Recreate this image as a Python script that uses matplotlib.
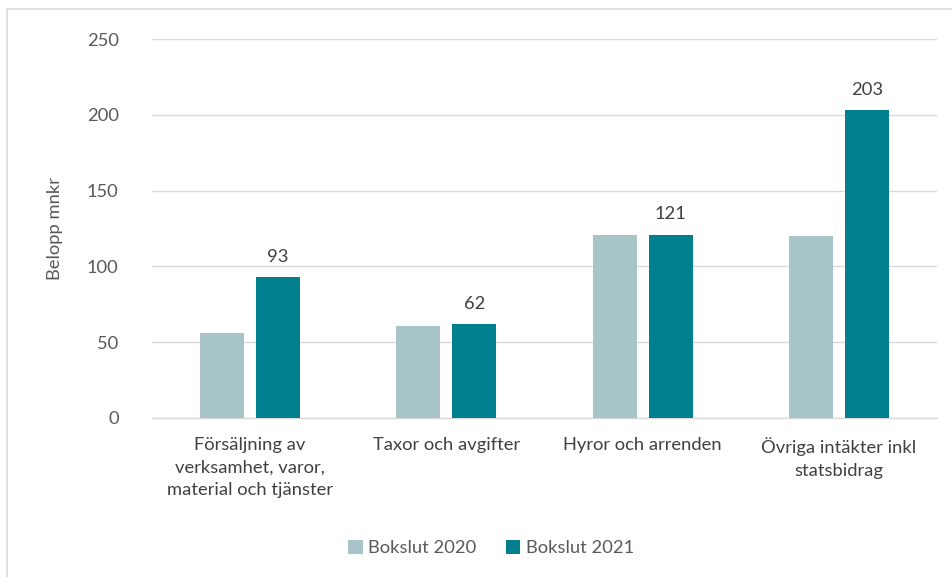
import matplotlib
matplotlib.use("Agg")
import matplotlib.pyplot as plt
import numpy as np
from matplotlib.lines import Line2D

categories = ["Försäljning av\nverksamhet, varor,\nmaterial och tjänster",
              "Taxor och avgifter",
              "Hyror och arrenden",
              "Övriga intäkter inkl\nstatsbidrag"]
bokslut_2020 = [56, 61, 121, 120]
bokslut_2021 = [93, 62, 121, 203]
series_names = ["Bokslut 2020", "Bokslut 2021"]
yticks = [0, 50, 100, 150, 200, 250]

c2020 = "#A7C4C9"
c2021 = "#00808E"
txt = "#595959"
fs = 13.2
plt.rcParams['font.family'] = ['Lato', 'DejaVu Sans']

fig = plt.figure(figsize=(9.53, 5.77), dpi=100)
ax = fig.add_axes([152/953, 1-418/577, (937-152)/953, (418-39)/577])

x = np.arange(len(categories))
w = 0.224
off = 0.143
b1 = ax.bar(x - off, bokslut_2020, w, color=c2020, label=series_names[0], zorder=3)
b2 = ax.bar(x + off, bokslut_2021, w, color=c2021, label=series_names[1], zorder=3)
for xi, v in zip(x, bokslut_2021):
    ax.annotate(f"{v}", (xi + off, v), xytext=(0, 9), textcoords="offset points",
                ha="center", va="bottom", fontsize=fs, color="#404040")

ax.set_xlim(-0.5, 3.5)
ax.set_ylim(0, 250)
ax.set_yticks(yticks)
ax.set_yticklabels([str(t) for t in yticks], fontsize=fs, color=txt)
ax.set_xticks(x)
ax.set_xticklabels(categories, fontsize=fs, color="#404040", linespacing=1.5, va="top")
ax.tick_params(axis="both", length=0)
ax.tick_params(axis="x", pad=14)
ax.tick_params(axis="y", pad=24)
ax.grid(axis="y", color="#D9D9D9", linewidth=1, zorder=0)
for s in ["top", "right", "left"]:
    ax.spines[s].set_visible(False)
ax.spines["bottom"].set_color("#D9D9D9")
ax.spines["bottom"].set_linewidth(1)
ax.set_ylabel("Belopp mnkr", fontsize=fs, color=txt)
ax.yaxis.set_label_coords(-0.113, 0.5)

fig.legend(handles=[b1, b2], loc="center", bbox_to_anchor=(491/953, 1-548/577), ncol=2,
           frameon=False, fontsize=fs, labelcolor=txt, handlelength=0.8, handleheight=0.8,
           handletextpad=0.3, columnspacing=1.6)

fig.add_artist(Line2D([7/953, 7/953], [0, 1-9/577], transform=fig.transFigure, color="#D9D9D9", lw=1.2))
fig.add_artist(Line2D([7/953, 1], [1-9/577, 1-9/577], transform=fig.transFigure, color="#D9D9D9", lw=1.2))

fig.savefig("out.png", dpi=100)
